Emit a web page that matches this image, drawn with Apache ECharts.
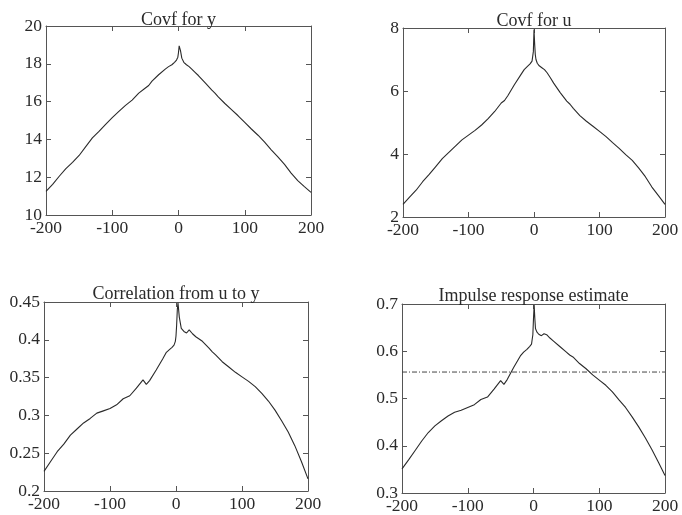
<!DOCTYPE html>
<html>
<head>
<meta charset="utf-8">
<script src="https://cdn.jsdelivr.net/npm/echarts@6/dist/echarts.min.js"></script>
<style>
  html, body { margin: 0; padding: 0; background: #ffffff; }
  #chart { width: 682px; height: 515px; }
</style>
</head>
<body>
<div id="chart"></div>
<script>
// Lags (samples) shared by all four panels
const lags = [-200,-190,-180,-170,-160,-150,-140,-130,-120,-110,-100,-90,-80,-70,-60,-50,-45,-40,-30,-20,-15,-10,-6,-3,-1,
  0,1,2,3,5,8,12,16,20,25,30,40,50,55,60,70,80,90,100,110,120,130,140,150,160,170,180,190,200];

// Covariance function of y
const covY = [11.25,11.62,12.05,12.45,12.78,13.15,13.62,14.08,14.42,14.8,15.15,15.48,15.8,16.08,16.45,16.72,16.85,17.08,17.42,17.72,17.85,17.95,18.08,18.2,18.35,
  18.6,18.95,19.05,18.7,18.3,18.08,17.95,17.85,17.72,17.55,17.38,17.0,16.62,16.45,16.25,15.9,15.58,15.25,14.9,14.55,14.22,13.85,13.45,13.08,12.68,12.22,11.82,11.5,11.2];

// Covariance function of u
const covU = [2.4,2.63,2.85,3.12,3.35,3.6,3.85,4.05,4.25,4.45,4.6,4.75,4.92,5.12,5.35,5.62,5.7,5.85,6.2,6.52,6.68,6.78,6.86,6.95,7.25,
  7.95,7.5,7.15,7.0,6.88,6.8,6.74,6.68,6.58,6.42,6.25,5.95,5.68,5.58,5.45,5.22,5.04,4.88,4.72,4.55,4.36,4.18,3.98,3.8,3.55,3.28,2.95,2.68,2.4];

// Cross correlation from u to y
const corrUY = [0.226,0.239,0.252,0.262,0.274,0.282,0.290,0.296,0.303,0.306,0.309,0.314,0.322,0.326,0.336,0.347,0.341,0.346,0.360,0.375,0.383,0.387,0.390,0.393,0.398,
  0.405,0.42,0.44,0.449,0.43,0.415,0.411,0.409,0.413,0.408,0.404,0.398,0.389,0.384,0.38,0.371,0.364,0.357,0.351,0.345,0.338,0.329,0.319,0.307,0.293,0.278,0.26,0.239,0.216];

// Impulse response estimate
const impulse = [0.351,0.37,0.39,0.41,0.428,0.442,0.453,0.463,0.471,0.475,0.481,0.487,0.498,0.503,0.52,0.538,0.53,0.54,0.566,0.59,0.598,0.604,0.61,0.615,0.635,
  0.67,0.698,0.67,0.648,0.641,0.636,0.633,0.637,0.635,0.628,0.622,0.61,0.598,0.592,0.588,0.574,0.563,0.55,0.539,0.528,0.514,0.497,0.481,0.461,0.44,0.417,0.392,0.365,0.337];

// Reference level drawn dash-dotted in the impulse response panel
const impulseLevel = 0.556;

const titles = ['Covf for y', 'Covf for u', 'Correlation from u to y', 'Impulse response estimate'];
const xRange = { min: -200, max: 200, interval: 100 };
const yRanges = [
  { min: 10, max: 20, interval: 2 },
  { min: 2, max: 8, interval: 2 },
  { min: 0.2, max: 0.45, interval: 0.05 },
  { min: 0.3, max: 0.7, interval: 0.1 }
];
const seriesValues = [covY, covU, corrUY, impulse];

const grids = [
  { left: 46, top: 26, width: 265, height: 189 },
  { left: 403, top: 28, width: 262, height: 189 },
  { left: 44, top: 302, width: 264, height: 189 },
  { left: 402, top: 304, width: 263, height: 189 }
];
const titleTops = [11, 12, 285, 287];

const FONT = 'Liberation Serif';
const INK = '#2a2a2a';
const FRAME = '#555555';

const xAxes = [], yAxes = [], series = [], titleOpts = [];

grids.forEach((g, i) => {
  const tickStyle = { show: true, inside: true, length: 5, lineStyle: { color: FRAME, width: 1 } };
  const lineStyle = { show: true, onZero: false, lineStyle: { color: FRAME, width: 1 } };
  // bottom axis with labels
  xAxes.push({
    type: 'value', gridIndex: i, position: 'bottom', ...xRange,
    axisLine: lineStyle, axisTick: tickStyle, splitLine: { show: false },
    axisLabel: { color: INK, fontFamily: FONT, fontSize: 17.5, margin: 4 }
  });
  // top frame with ticks only
  xAxes.push({
    type: 'value', gridIndex: i, position: 'top', ...xRange,
    axisLine: lineStyle, axisTick: tickStyle, splitLine: { show: false },
    axisLabel: { show: false }
  });
  // left axis with labels
  yAxes.push({
    type: 'value', gridIndex: i, position: 'left', ...yRanges[i],
    axisLine: lineStyle, axisTick: tickStyle, splitLine: { show: false },
    axisLabel: { color: INK, fontFamily: FONT, fontSize: 17.5, margin: 4,
      formatter: v => String(+v.toFixed(2)) }
  });
  // right frame with ticks only
  yAxes.push({
    type: 'value', gridIndex: i, position: 'right', ...yRanges[i],
    axisLine: lineStyle, axisTick: tickStyle, splitLine: { show: false },
    axisLabel: { show: false }
  });

  series.push({
    type: 'line', xAxisIndex: 2 * i, yAxisIndex: 2 * i,
    data: lags.map((l, k) => [l, seriesValues[i][k]]),
    symbol: 'none', smooth: false, animation: false,
    lineStyle: { color: INK, width: 1.1 }
  });

  titleOpts.push({
    text: titles[i],
    left: g.left + g.width / 2, top: titleTops[i], textAlign: 'center',
    padding: 0,
    textStyle: { fontFamily: FONT, fontSize: 18, fontWeight: 'normal', color: INK }
  });
});

// dash-dot level line across the impulse response panel
series.push({
  type: 'line', xAxisIndex: 6, yAxisIndex: 6,
  data: [[xRange.min, impulseLevel], [xRange.max, impulseLevel]],
  symbol: 'none', animation: false,
  lineStyle: { color: '#444', width: 1, type: [5, 2, 1, 2] }
});

const chart = echarts.init(document.getElementById('chart'), null, { renderer: 'canvas' });
chart.setOption({
  backgroundColor: '#ffffff',
  animation: false,
  title: titleOpts,
  grid: grids,
  xAxis: xAxes,
  yAxis: yAxes,
  series: series
});
</script>
</body>
</html>
